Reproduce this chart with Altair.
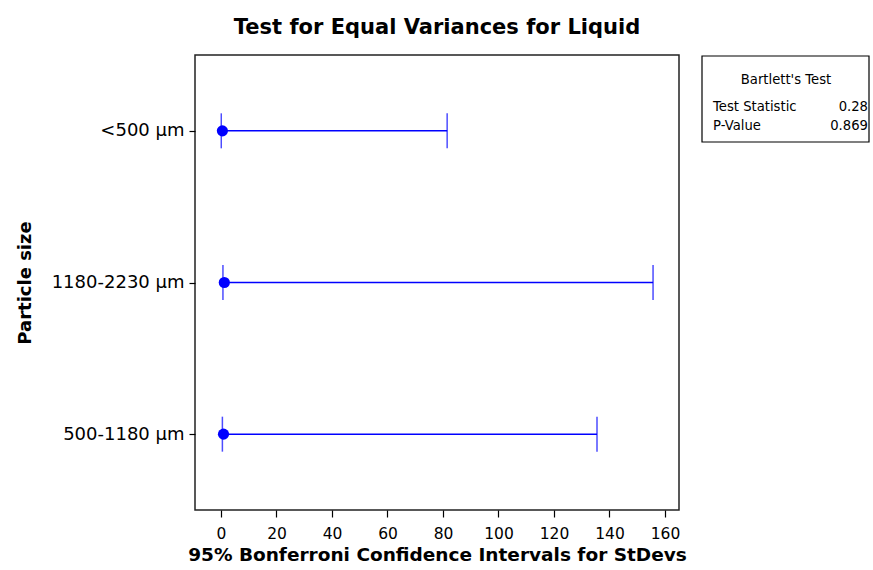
import altair as alt
import pandas as pd

# Particle-size groups and Bonferroni CIs for the standard deviations
groups = ["<500 µm", "1180-2230 µm", "500-1180 µm"]
stdev = [0.5, 1.2, 0.9]
ci_lower = [0.1, 0.7, 0.5]
ci_upper = [81.5, 155.7, 135.5]

# Bartlett's test summary
stat_labels = ["Test Statistic", "P-Value"]
stat_values = ["0.28", "0.869"]

FONT = "DejaVu Sans"
BLUE = "#0000FF"
W, H = 484, 455

df = pd.DataFrame({"group": groups, "sd": stdev, "lo": ci_lower, "hi": ci_upper})
stats = pd.DataFrame({"label": stat_labels, "value": stat_values})

x_scale = alt.Scale(domain=[-9.37, 165.05], nice=False, zero=False)
y_scale = alt.Scale(type="point", domain=groups, padding=0.5)

x_enc = alt.X(
    "lo:Q", scale=x_scale,
    axis=alt.Axis(values=list(range(0, 161, 20)), title="95% Bonferroni Confidence Intervals for StDevs",
                  grid=False, domain=False, tickSize=7, tickColor="black", tickWidth=1.2,
                  labelPadding=9, labelFontSize=15.5, labelFont=FONT, labelColor="black",
                  titleFont=FONT, titleFontSize=18.5, titleFontWeight="bold", titleColor="black",
                  titlePadding=4),
)
y_enc = alt.Y(
    "group:N", scale=y_scale, sort=groups,
    axis=alt.Axis(title="Particle size", grid=False, domain=False, tickSize=6, tickColor="black",
                  tickWidth=1.2, labelPadding=5, labelFontSize=18, labelFont=FONT, labelColor="black",
                  titleFont=FONT, titleFontSize=18, titleFontWeight="bold", titleColor="black",
                  titlePadding=17),
)

base = alt.Chart(df)
gy = alt.Y("group:N", sort=groups)

interval = base.mark_rule(color=BLUE, strokeWidth=1.5).encode(x=x_enc, x2="hi:Q", y=y_enc)
lo_tick = base.mark_tick(color=BLUE, thickness=1.5, size=35).encode(x="lo:Q", y=gy)
hi_tick = base.mark_tick(color=BLUE, thickness=1.5, size=35).encode(x="hi:Q", y=gy)
points = base.mark_circle(color=BLUE, opacity=1, size=125).encode(x="sd:Q", y=gy)

# Bartlett's test box to the right of the plot
first = alt.datum.label == stat_labels[0]
box = alt.Chart(stats).mark_rect(fill="white", stroke="black", strokeWidth=1.2).encode(
    x=alt.value(507), x2=alt.value(674), y=alt.value(1), y2=alt.value(87)
).transform_filter(first)
header = alt.Chart(stats).mark_text(font=FONT, fontSize=13.2, color="black").encode(
    x=alt.value(591), y=alt.value(25), text=alt.value("Bartlett's Test")
).transform_filter(first)

rows = []
for i, lab in enumerate(stat_labels):
    sub = alt.Chart(stats).transform_filter(alt.datum.label == lab)
    rows.append(sub.mark_text(font=FONT, fontSize=13.2, color="black", align="left").encode(
        x=alt.value(518), y=alt.value(52 + 18.5 * i), text="label:N"))
    rows.append(sub.mark_text(font=FONT, fontSize=13.2, color="black", align="right").encode(
        x=alt.value(673), y=alt.value(52 + 18.5 * i), text="value:N"))

chart = alt.layer(interval, lo_tick, hi_tick, points, box, header, *rows).properties(
    width=W, height=H,
    title=alt.TitleParams("Test for Equal Variances for Liquid", font=FONT, fontSize=21,
                          fontWeight="bold", color="black", anchor="middle", offset=17),
    autosize=alt.AutoSizeParams(type="none"),
    padding={"left": 195, "top": 55, "right": 194, "bottom": 60},
).configure(background="white").configure_view(stroke="#222222", strokeWidth=1.5)

chart.save("out.html", embed_options={"renderer": "svg", "actions": False})
